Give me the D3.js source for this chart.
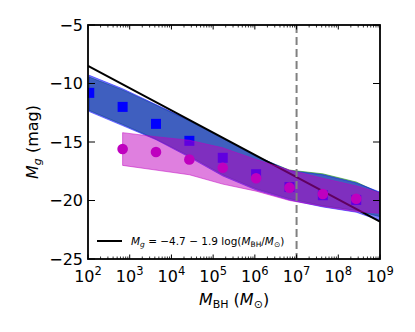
<!DOCTYPE html>
<html>
<head>
<meta charset="utf-8">
<script src="https://cdn.jsdelivr.net/npm/d3@7"></script>
<style>
  body { margin: 0; background: #fff; }
  svg { font-family: "DejaVu Sans", sans-serif; }
</style>
</head>
<body>
<svg id="svg" width="415" height="332"></svg>
<script>
// bin centres, log10(M_BH / M_sun)
var binLogM = [2.03, 2.83, 3.63, 4.43, 5.23, 6.03, 6.83, 7.63, 8.43, 9.23];

// blue squares (median M_g per bin)
var blueMag = [-10.8, -12.0, -13.45, -14.9, -16.35, -17.75, -18.85, -19.55, -19.95];
// magenta circles, start at second bin
var magentaMag = [null, -15.6, -15.85, -16.5, -17.2, -18.1, -18.9, -19.45, -19.85];

// shaded ranges per bin
var greenUpper = [-9.45, -10.55, -11.85, -13.2, -14.7, -16.25, -17.4, -17.72, -18.42, -19.75];
var greenLower = [-12.3, -13.5, -14.75, -16.2, -17.8, -19.0, -19.85, -20.45, -20.85, -21.6];
var blueUpper  = [-9.3, -10.45, -11.8, -13.15, -14.65, -16.2, -17.45, -17.8, -18.5, -19.6];
var blueLower  = [-12.4, -13.6, -14.8, -16.3, -17.9, -19.1, -19.95, -20.55, -21.0, -22.0];
var magUpper   = [null, -14.2, -14.55, -14.85, -15.5, -16.5, -17.4, -18.1, -18.75, -19.6];
var magLower   = [null, -17.0, -17.4, -17.8, -18.6, -19.2, -20.0, -20.5, -20.95, -21.15];

var fitA = -4.7, fitB = -1.9;
var xDecades = [2, 3, 4, 5, 6, 7, 8, 9];
var yTicks = [-5, -10, -15, -20, -25];
var splitMass = 1e7;

var svg = d3.select("#svg");
var L = 88, R = 380, T = 25, B = 259;

var x = d3.scaleLog().domain([1e2, 1e9]).range([L, R]);
var y = d3.scaleLinear().domain([-5, -25]).range([T, B]);

svg.append("clipPath").attr("id", "clip")
  .append("rect").attr("x", L).attr("y", T).attr("width", R - L).attr("height", B - T);

var plot = svg.append("g").attr("clip-path", "url(#clip)");

function band(upper, lower, color) {
  var rows = binLogM.map(function(m, i) { return {m: m, hi: upper[i], lo: lower[i]}; })
    .filter(function(d) { return d.hi != null; });
  var area = d3.area()
    .x(function(d) { return x(Math.pow(10, d.m)); })
    .y0(function(d) { return y(d.lo); })
    .y1(function(d) { return y(d.hi); });
  plot.append("path").datum(rows)
    .attr("d", area)
    .attr("fill", color).attr("fill-opacity", 0.5)
    .attr("stroke", color).attr("stroke-opacity", 0.5).attr("stroke-width", 1);
}

band(greenUpper, greenLower, "#008000");
band(blueUpper, blueLower, "#0000ff");

// fit line
var fitLine = d3.line()
  .x(function(d) { return x(Math.pow(10, d)); })
  .y(function(d) { return y(fitA + fitB * d); });
plot.append("path").datum([2, 9])
  .attr("d", fitLine)
  .attr("fill", "none").attr("stroke", "#000").attr("stroke-width", 2);

// blue squares
var sq = 10;
plot.selectAll(".sq").data(blueMag).enter().append("rect")
  .attr("x", function(d, i) { return x(Math.pow(10, binLogM[i])) - sq / 2; })
  .attr("y", function(d) { return y(d) - sq / 2; })
  .attr("width", sq).attr("height", sq)
  .attr("fill", "#0000ff");

band(magUpper, magLower, "#bf00bf");

// magenta circles
var dots = binLogM.map(function(m, i) { return {m: m, v: magentaMag[i]}; })
  .filter(function(d) { return d.v != null; });
plot.selectAll(".dot").data(dots).enter().append("circle")
  .attr("cx", function(d) { return x(Math.pow(10, d.m)); })
  .attr("cy", function(d) { return y(d.v); })
  .attr("r", 5.3)
  .attr("fill", "#bf00bf");

// dashed split
plot.append("line")
  .attr("x1", x(splitMass)).attr("x2", x(splitMass))
  .attr("y1", T).attr("y2", B)
  .attr("stroke", "#808080").attr("stroke-width", 2).attr("stroke-dasharray", "8,4");

// frame
svg.append("rect").attr("x", L).attr("y", T).attr("width", R - L).attr("height", B - T)
  .attr("fill", "none").attr("stroke", "#000").attr("stroke-width", 1.8);

// ticks (inward, all four sides)
var minor = [];
xDecades.slice(0, -1).forEach(function(e) {
  for (var k = 2; k <= 9; k++) minor.push(k * Math.pow(10, e));
});
var ticks = svg.append("g").attr("stroke", "#000");
xDecades.forEach(function(e) {
  var px = x(Math.pow(10, e));
  ticks.append("line").attr("x1", px).attr("x2", px).attr("y1", B).attr("y2", B - 4.5).attr("stroke-width", 1);
  ticks.append("line").attr("x1", px).attr("x2", px).attr("y1", T).attr("y2", T + 4.5).attr("stroke-width", 1);
});
minor.forEach(function(v) {
  var px = x(v);
  ticks.append("line").attr("x1", px).attr("x2", px).attr("y1", B).attr("y2", B - 2.5).attr("stroke-width", 0.8);
  ticks.append("line").attr("x1", px).attr("x2", px).attr("y1", T).attr("y2", T + 2.5).attr("stroke-width", 0.8);
});
yTicks.forEach(function(v) {
  var py = y(v);
  ticks.append("line").attr("x1", L).attr("x2", L + 7).attr("y1", py).attr("y2", py).attr("stroke-width", 1);
  ticks.append("line").attr("x1", R).attr("x2", R - 7).attr("y1", py).attr("y2", py).attr("stroke-width", 1);
});

// tick labels
svg.selectAll(".ylab").data(yTicks).enter().append("text")
  .attr("x", L - 5).attr("y", function(d) { return y(d); })
  .attr("dy", "0.36em").attr("text-anchor", "end")
  .attr("font-size", 16)
  .text(function(d) { return "\u2212" + Math.abs(d); });

var xl = svg.selectAll(".xlab").data(xDecades).enter().append("text")
  .attr("x", function(d) { return x(Math.pow(10, d)); })
  .attr("y", 282).attr("text-anchor", "middle").attr("font-size", 16);
xl.append("tspan").text("10");
xl.append("tspan").attr("dy", -7).attr("font-size", 11.5).text(function(d) { return d; });

// axis labels
var xt = svg.append("text").attr("x", 234).attr("y", 305).attr("text-anchor", "middle").attr("font-size", 16);
xt.append("tspan").attr("font-style", "italic").text("M");
xt.append("tspan").attr("font-size", 11).attr("dy", 3).text("BH");
xt.append("tspan").attr("dy", -3).text(" (");
xt.append("tspan").attr("font-style", "italic").text("M");
xt.append("tspan").attr("font-size", 11).attr("dy", 3).text("\u2299");
xt.append("tspan").attr("dy", -3).text(")");

var yt = svg.append("text").attr("transform", "translate(38,142)rotate(-90)")
  .attr("text-anchor", "middle").attr("font-size", 16);
yt.append("tspan").attr("font-style", "italic").text("M");
yt.append("tspan").attr("font-style", "italic").attr("font-size", 11).attr("dy", 3).text("g");
yt.append("tspan").attr("dy", -3).text(" (mag)");

// legend
svg.append("line").attr("x1", 97).attr("x2", 122).attr("y1", 241).attr("y2", 241)
  .attr("stroke", "#000").attr("stroke-width", 2);
var lg = svg.append("text").attr("x", 131).attr("y", 245).attr("font-size", 10.5);
lg.append("tspan").attr("font-style", "italic").text("M");
lg.append("tspan").attr("font-style", "italic").attr("font-size", 7.5).attr("dy", 2).text("g");
lg.append("tspan").attr("dy", -2).text(" = \u22124.7 \u2212 1.9 log(");
lg.append("tspan").attr("font-style", "italic").text("M");
lg.append("tspan").attr("font-size", 7.5).attr("dy", 2).text("BH");
lg.append("tspan").attr("dy", -2).text("/");
lg.append("tspan").attr("font-style", "italic").text("M");
lg.append("tspan").attr("font-size", 7.5).attr("dy", 2).text("\u2299");
lg.append("tspan").attr("dy", -2).text(")");
</script>
</body>
</html>
